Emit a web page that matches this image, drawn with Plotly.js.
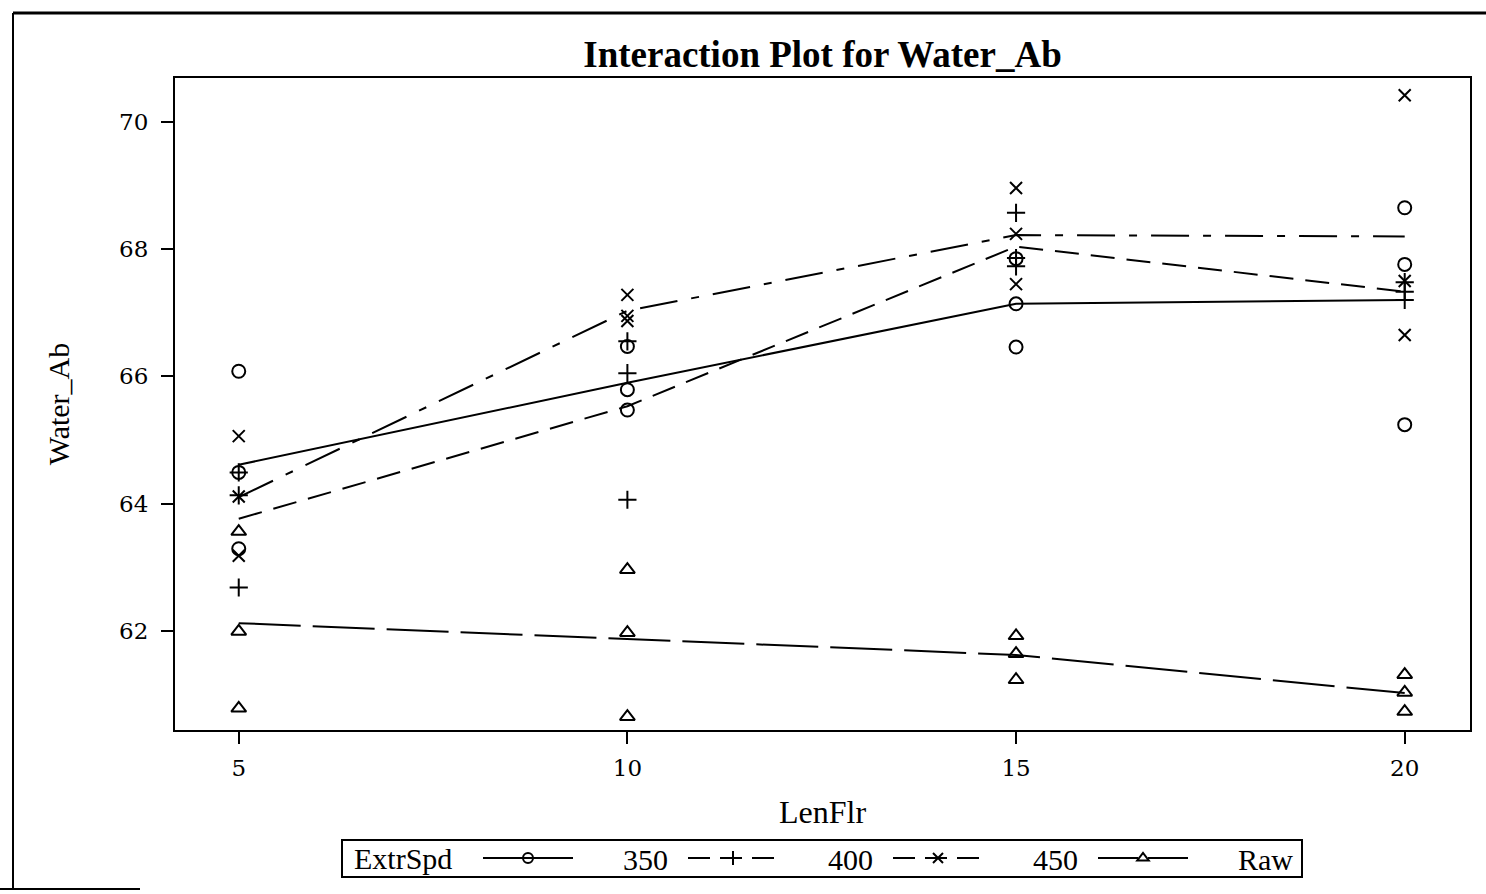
<!DOCTYPE html>
<html>
<head>
<meta charset="utf-8">
<script src="https://cdn.plot.ly/plotly-3.0.1.min.js"></script>
<style>html,body{margin:0;padding:0;background:#fff;}#chart{width:1486px;height:894px;}</style>
</head>
<body>
<div id="chart"></div>
<script>
// Levels of LenFlr
const lenFlr = [5, 10, 15, 20];
const groups = ['350', '400', '450', 'Raw'];

const obs350 = [[66.08, 64.49, 63.29], [66.47, 65.79, 65.47], [67.85, 67.14, 66.46], [68.65, 67.76, 65.24]];
const obs400 = [[64.49, 64.13, 62.68], [66.55, 66.05, 64.06], [68.57, 67.86, 67.73], [67.48, 67.33, 67.20]];
const obs450 = [[65.06, 64.11, 63.18], [67.28, 66.95, 66.87], [68.96, 68.24, 67.45], [70.42, 67.50, 66.65]];
const obsRaw = [[63.56, 61.99, 60.78], [62.96, 61.97, 60.65], [61.92, 61.64, 61.23], [61.31, 61.03, 60.73]];

// Cell means (lines)
const mean350 = [64.61, 65.90, 67.14, 67.20];
const mean400 = [63.76, 65.53, 68.04, 67.33];
const mean450 = [64.10, 67.03, 68.22, 68.20];
const meanRaw = [62.12, 61.87, 61.62, 61.02];

const yTicks = [62, 64, 66, 68, 70];

const obsAll = [obs350, obs400, obs450, obsRaw];
const meansAll = [mean350, mean400, mean450, meanRaw];
const symbols = ['circle-open', 'cross-thin-open', 'x-thin-open', 'triangle-up-open'];
const sizes = [13, 13, 12, 13];
const dashes = ['solid', '24px,12px', '38px,14px,8px,14px', '62px,12px'];
const legendDash = ['solid', '22px,10px', '22px,10px', '40px,10px'];

function flatten(obs) {
  const xs = [], ys = [];
  obs.forEach((vals, i) => vals.forEach(v => { xs.push(lenFlr[i]); ys.push(v); }));
  return {xs, ys};
}

const pad = '\u00a0'.repeat(6);
const traces = [];
groups.forEach((g, k) => {
  const f = flatten(obsAll[k]);
  traces.push({
    type: 'scatter', mode: 'markers', x: f.xs, y: f.ys, showlegend: false, legendgroup: g,
    marker: {symbol: symbols[k], size: sizes[k], color: '#000', line: {color: '#000', width: 2}},
    cliponaxis: false, hoverinfo: 'x+y'
  });
  traces.push({
    type: 'scatter', mode: 'lines', x: lenFlr, y: meansAll[k], showlegend: false, legendgroup: g,
    line: {color: '#000', width: 2, dash: dashes[k]}
  });
  // legend entry
  traces.push({
    type: 'scatter', mode: 'lines+markers', x: [null], y: [null], name: pad + g, legendgroup: g,
    line: {color: '#000', width: 2, dash: legendDash[k]},
    marker: {symbol: symbols[k], size: 10, color: '#000', line: {color: '#000', width: 2}}
  });
});

const W = 1486, H = 894, L = 175, R = 16, T = 78, B = 164;
const pw = W - L - R, ph = H - T - B;
const px = v => (v - L) / pw;
const py = v => (H - B - v) / ph;

const layout = {
  width: W, height: H,
  margin: {l: L, r: R, t: T, b: B, autoexpand: false},
  paper_bgcolor: '#fff', plot_bgcolor: '#fff',
  font: {family: '"Liberation Serif", "Times New Roman", serif', color: '#000', size: 24},
  title: {text: 'Interaction Plot for Water_Ab', x: 0.5, xref: 'paper', xanchor: 'center', y: 0.94, yanchor: 'middle',
    font: {family: '"Liberation Serif", serif', size: 37, weight: 'bold', color: '#000'}},
  xaxis: {
    range: [4.18, 20.84], tickvals: lenFlr, ticktext: lenFlr.map(String),
    ticks: 'outside', ticklen: 12, tickwidth: 2, tickcolor: '#000', automargin: false,
    showline: true, linecolor: '#000', linewidth: 2, mirror: true, showgrid: false, zeroline: false,
    tickfont: {family: '"DejaVu Serif", serif', size: 23}, ticklabelstandoff: 4,
    title: {text: 'LenFlr', font: {size: 32}, standoff: 21}
  },
  yaxis: {
    range: [60.44, 70.69], tickvals: yTicks, ticktext: yTicks.map(String),
    ticks: 'outside', ticklen: 12, tickwidth: 2, tickcolor: '#000', automargin: false,
    showline: true, linecolor: '#000', linewidth: 2, mirror: true, showgrid: false, zeroline: false,
    tickfont: {family: '"DejaVu Serif", serif', size: 23}, ticklabelstandoff: 8,
    title: {text: 'Water_Ab', font: {size: 30}, standoff: 41}
  },
  showlegend: true,
  legend: {
    orientation: 'h', x: px(478), xanchor: 'left', y: py(858), yanchor: 'middle',
    borderwidth: 0, bgcolor: 'rgba(0,0,0,0)',
    font: {size: 30},
    itemwidth: 90, entrywidth: 100, traceorder: 'normal', tracegroupgap: 0
  },
  annotations: [
    {xref: 'paper', yref: 'paper', x: px(352), y: py(858), xanchor: 'left', yanchor: 'middle',
     text: 'ExtrSpd', showarrow: false, font: {size: 30}}
  ],
  shapes: [
    {type: 'rect', xref: 'paper', yref: 'paper', x0: px(342), x1: px(1302), y0: py(840), y1: py(877), line: {color: '#000', width: 2}},
    {type: 'line', xref: 'paper', yref: 'paper', x0: px(13), x1: px(1490), y0: py(13), y1: py(13), line: {color: '#000', width: 3}},
    {type: 'line', xref: 'paper', yref: 'paper', x0: px(13), x1: px(13), y0: py(13), y1: py(890), line: {color: '#000', width: 2}},
    {type: 'line', xref: 'paper', yref: 'paper', x0: px(0), x1: px(140), y0: py(889), y1: py(889), line: {color: '#000', width: 2}}
  ]
};

Plotly.newPlot('chart', traces, layout, {displayModeBar: false, staticPlot: true});
</script>
</body>
</html>
